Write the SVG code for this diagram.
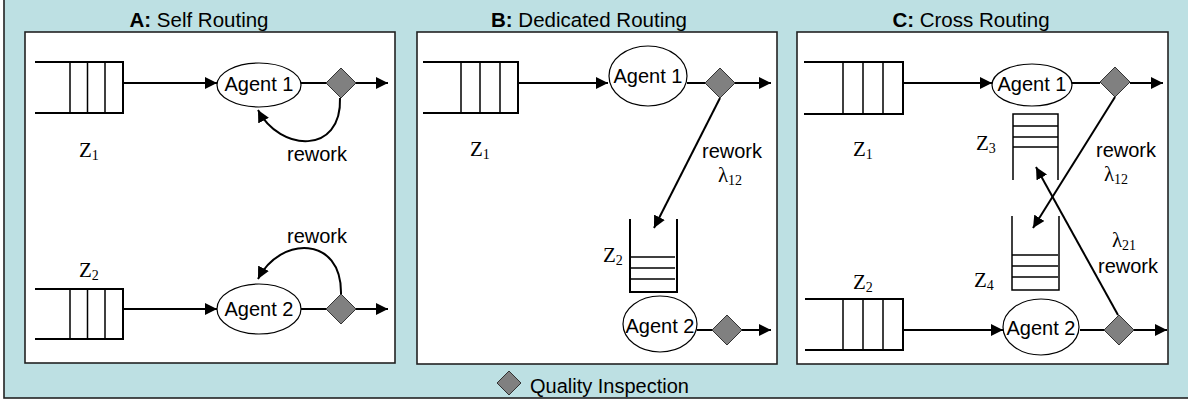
<svg xmlns="http://www.w3.org/2000/svg" width="1188" height="402" viewBox="0 0 1188 402">
<defs>
<marker id="ah" markerUnits="userSpaceOnUse" markerWidth="14" markerHeight="12" refX="12" refY="6" orient="auto">
<path d="M0,0 L12,6 L0,12 Z" fill="#000"/>
</marker>
<style>
.panel{fill:#fff;stroke:#222;stroke-width:1.6}
.q{fill:none;stroke:#000;stroke-width:2}
.ql{fill:none;stroke:#000;stroke-width:1.5}
.ag{fill:#fff;stroke:#000;stroke-width:1.2}
.dm{fill:#808080;stroke:#333;stroke-width:1}
.ln{fill:none;stroke:#000;stroke-width:2}
.ar{fill:none;stroke:#000;stroke-width:2;marker-end:url(#ah)}
.t{font-family:"Liberation Sans",Arial,sans-serif;font-size:20px;fill:#000}
.ti{font-family:"Liberation Sans",Arial,sans-serif;font-size:20.5px;fill:#000;text-anchor:middle}
.z{font-family:"Liberation Serif","Times New Roman",serif;font-size:21px;fill:#000}
.sub{font-size:14px}
.c{text-anchor:middle}
</style>
</defs>
<rect x="4" y="-3" width="1190" height="401" fill="#BDE0E3" stroke="#222" stroke-width="1.6"/>
<text class="ti" x="199" y="27"><tspan font-weight="bold">A:</tspan> Self Routing</text>
<text class="ti" x="589" y="27"><tspan font-weight="bold">B:</tspan> Dedicated Routing</text>
<text class="ti" x="971" y="27"><tspan font-weight="bold">C:</tspan> Cross Routing</text>
<rect class="panel" x="25" y="32" width="370" height="331"/>
<rect class="panel" x="417" y="32" width="360" height="332"/>
<rect class="panel" x="797" y="32" width="371" height="332"/>

<g id="connectors">
<line class="ar" x1="123" y1="83" x2="217" y2="83"/>
<line class="ln" x1="301" y1="83" x2="326" y2="83"/>
<line class="ar" x1="356" y1="83" x2="388" y2="83"/>
<path class="ar" d="M340,98 C342,155 280,152 258,110"/>
<line class="ar" x1="123" y1="309" x2="217" y2="309"/>
<line class="ln" x1="301" y1="309" x2="326" y2="309"/>
<line class="ar" x1="356" y1="309" x2="388" y2="309"/>
<path class="ar" d="M341,294 C342,235 280,236 258,279"/>

<line class="ar" x1="518" y1="83" x2="608" y2="83"/>
<line class="ln" x1="687" y1="83" x2="705" y2="83"/>
<line class="ar" x1="735" y1="83" x2="771" y2="83"/>
<line class="ar" x1="720" y1="98" x2="654" y2="228"/>
<line class="ln" x1="697" y1="330" x2="712" y2="330"/>
<line class="ar" x1="742" y1="330" x2="771" y2="330"/>

<line class="ar" x1="903" y1="83" x2="992" y2="83"/>
<line class="ln" x1="1072" y1="83" x2="1100" y2="83"/>
<line class="ar" x1="1130" y1="83" x2="1163" y2="83"/>
<line class="ar" x1="1115" y1="97" x2="1033" y2="228"/>
<line class="ar" x1="1118" y1="315" x2="1036" y2="167"/>
<line class="ar" x1="903" y1="330" x2="1003" y2="330"/>
<line class="ln" x1="1080" y1="330" x2="1104" y2="330"/>
<line class="ar" x1="1134" y1="330" x2="1167" y2="330"/>
</g>

<g id="A-queue1">
<path class="q" d="M35,62 H123 V113 H35"/>
<path class="ql" d="M70,62 V113 M87.5,62 V113 M105,62 V113"/>
<text class="z" x="79" y="157">Z<tspan class="sub" dy="3">1</tspan></text>
</g>
<g id="A-agent1">
<ellipse class="ag" cx="259" cy="85" rx="42" ry="22"/>
<text class="t c" x="259" y="91">Agent 1</text>
</g>
<g id="A-insp1"><path class="dm" d="M341,68 L356,83 L341,98 L326,83 Z"/></g>
<text class="t c" x="317" y="161">rework</text>
<g id="A-queue2">
<path class="q" d="M35,289 H123 V339 H35"/>
<path class="ql" d="M70,289 V339 M87.5,289 V339 M105,289 V339"/>
<text class="z" x="79" y="277">Z<tspan class="sub" dy="3">2</tspan></text>
</g>
<g id="A-agent2">
<ellipse class="ag" cx="259" cy="309" rx="42" ry="25"/>
<text class="t c" x="259" y="316">Agent 2</text>
</g>
<g id="A-insp2"><path class="dm" d="M341,294 L356,309 L341,324 L326,309 Z"/></g>
<text class="t c" x="317" y="243">rework</text>

<g id="B-queue1">
<path class="q" d="M423,62 H518 V113 H423"/>
<path class="ql" d="M461,62 V113 M480,62 V113 M500,62 V113"/>
<text class="z" x="470" y="156">Z<tspan class="sub" dy="3">1</tspan></text>
</g>
<g id="B-agent1">
<ellipse class="ag" cx="648" cy="76" rx="39" ry="30"/>
<text class="t c" x="648" y="83">Agent 1</text>
</g>
<g id="B-insp1"><path class="dm" d="M720,68 L735,83 L720,98 L705,83 Z"/></g>
<text class="t c" x="732" y="158">rework</text>
<text class="z c" x="730" y="182">λ<tspan class="sub" dy="3">12</tspan></text>
<g id="B-queue2">
<path class="q" d="M630,219 V292 H677 V219"/>
<path class="ql" d="M630,257 H675 M630,268 H675 M630,279 H675"/>
<text class="z" x="603" y="262">Z<tspan class="sub" dy="3">2</tspan></text>
</g>
<g id="B-agent2">
<ellipse class="ag" cx="660" cy="324" rx="37" ry="28"/>
<text class="t c" x="660" y="333">Agent 2</text>
</g>
<g id="B-insp2"><path class="dm" d="M727,315 L742,330 L727,345 L712,330 Z"/></g>

<g id="C-queue1">
<path class="q" d="M804,62 H903 V114 H804"/>
<path class="ql" d="M843,62 V114 M863,62 V114 M883,62 V114"/>
<text class="z" x="853" y="156">Z<tspan class="sub" dy="3">1</tspan></text>
</g>
<g id="C-agent1">
<ellipse class="ag" cx="1032" cy="85" rx="40" ry="21"/>
<text class="t c" x="1032" y="91">Agent 1</text>
</g>
<g id="C-insp1"><path class="dm" d="M1115,67 L1130,82 L1115,97 L1100,82 Z"/></g>
<text class="t c" x="1126" y="157">rework</text>
<text class="z c" x="1116" y="181">λ<tspan class="sub" dy="3">12</tspan></text>
<g id="C-queue3">
<path class="ql" d="M1013,180 V114 H1058 V180"/>
<path class="ql" d="M1013,126 H1058 M1013,137 H1058 M1013,147 H1058"/>
<text class="z" x="976" y="150">Z<tspan class="sub" dy="3">3</tspan></text>
</g>
<g id="C-queue4">
<path class="ql" d="M1012,216 V290 H1059 V216"/>
<path class="ql" d="M1012,255 H1058 M1012,266 H1058 M1012,277 H1058"/>
<text class="z" x="974" y="287">Z<tspan class="sub" dy="3">4</tspan></text>
</g>
<text class="z c" x="1124" y="247">λ<tspan class="sub" dy="3">21</tspan></text>
<text class="t c" x="1128" y="273">rework</text>
<g id="C-queue2">
<path class="q" d="M805,299 H903 V350 H805"/>
<path class="ql" d="M843,299 V350 M863,299 V350 M883,299 V350"/>
<text class="z" x="853" y="289">Z<tspan class="sub" dy="3">2</tspan></text>
</g>
<g id="C-agent2">
<ellipse class="ag" cx="1041" cy="327" rx="38" ry="28"/>
<text class="t c" x="1041" y="335">Agent 2</text>
</g>
<g id="C-insp2"><path class="dm" d="M1119,315 L1134,330 L1119,345 L1104,330 Z"/></g>

<g id="legend">
<path class="dm" d="M509,371 L521,383 L509,395 L497,383 Z"/>
<text class="t" x="530" y="393" font-size="19.5">Quality Inspection</text>
</g>
</svg>
